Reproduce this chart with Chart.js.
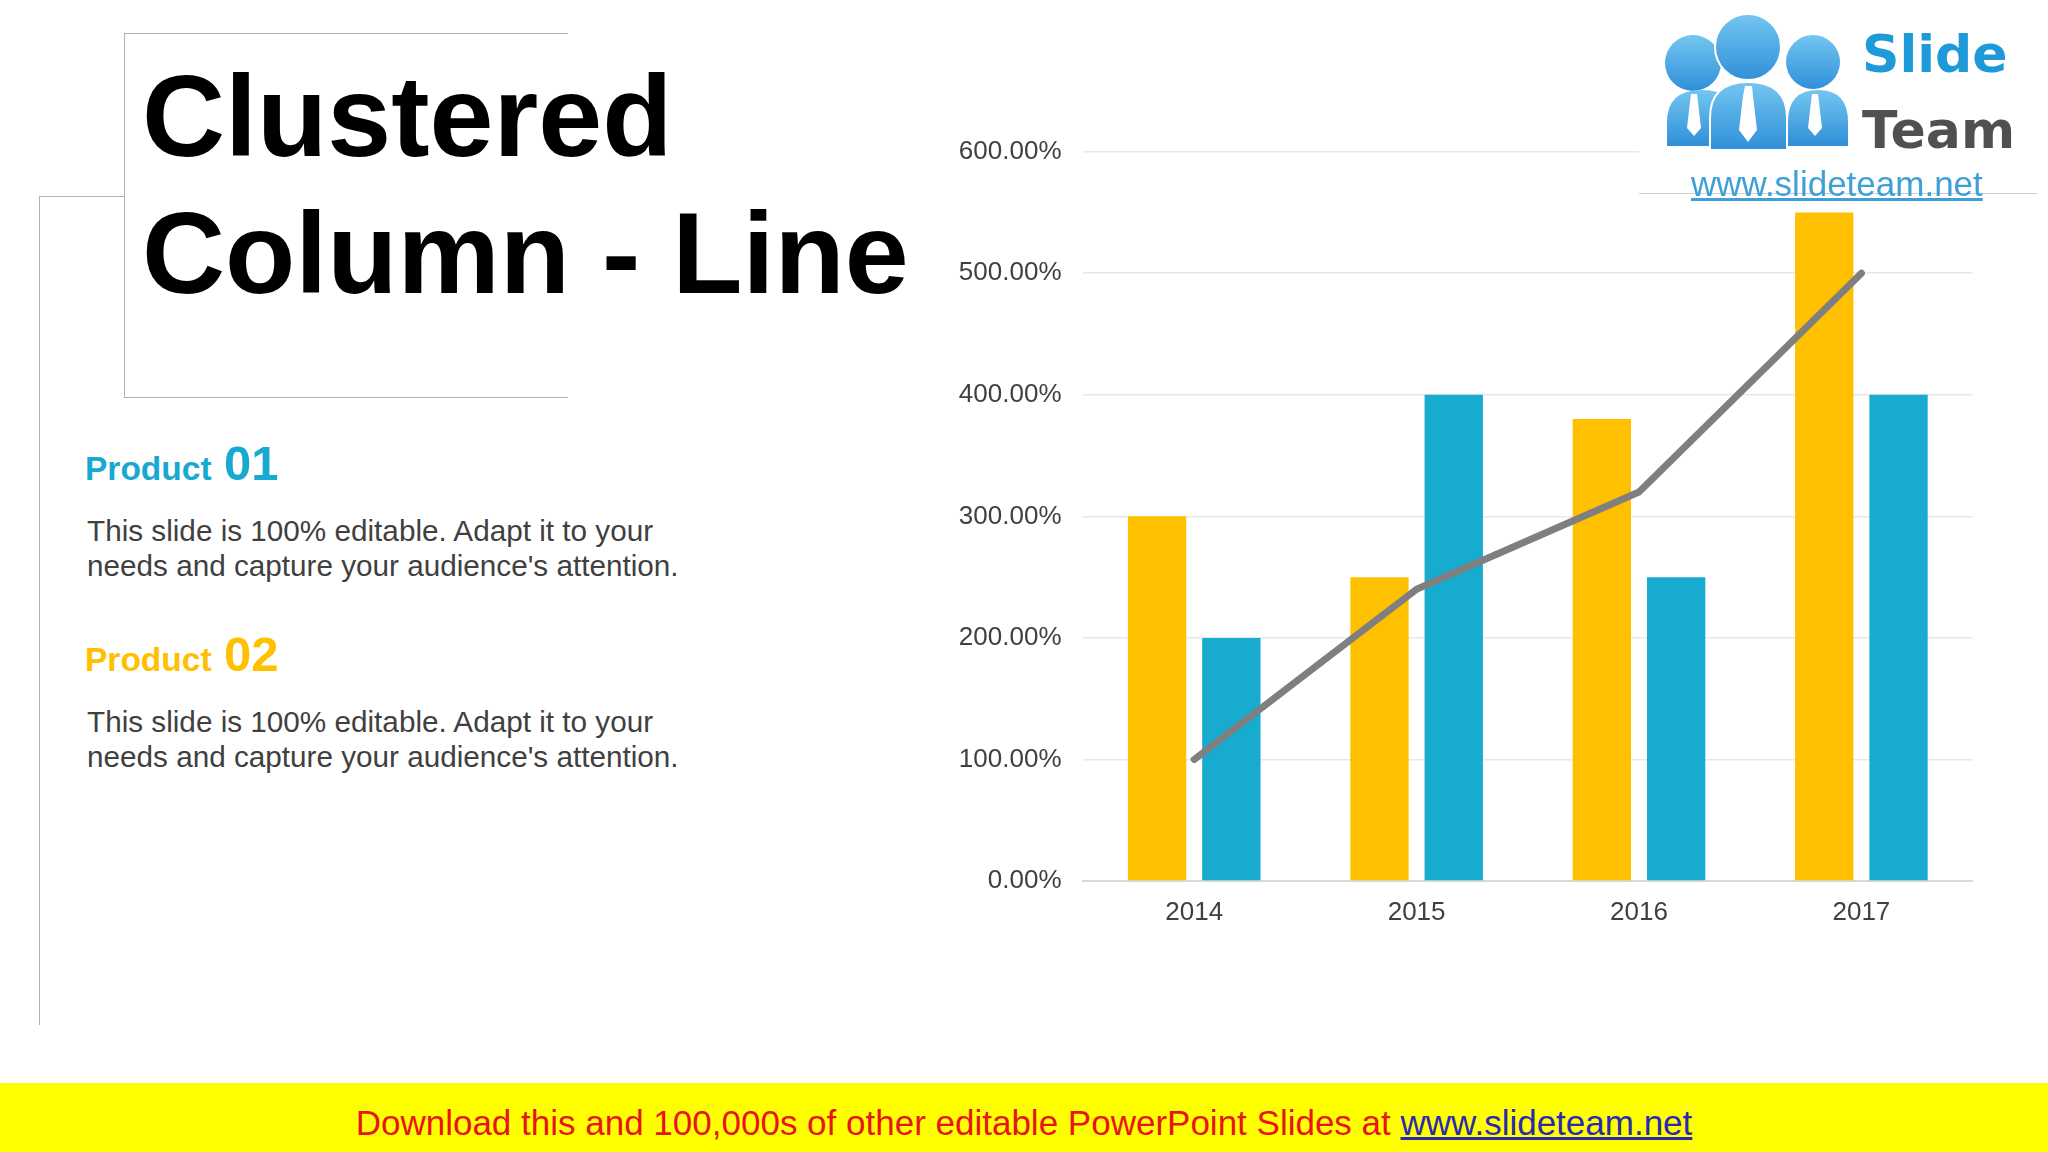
<!DOCTYPE html>
<html>
<head>
<meta charset="utf-8">
<title>Clustered Column - Line</title>
<script src="https://cdn.jsdelivr.net/npm/chart.js@4.4.1/dist/chart.umd.min.js"></script>
<style>
    html, body { margin: 0; padding: 0; }
    body {
        width: 2048px;
        height: 1152px;
        position: relative;
        overflow: hidden;
        background: #ffffff;
        font-family: "Liberation Sans", Arial, sans-serif;
    }
    .abs { position: absolute; white-space: nowrap; line-height: 1; }
    .title { font-size: 115px; font-weight: bold; color: #000; }
    .prod { font-size: 33.5px; font-weight: bold; }
    .num { font-size: 49px; font-weight: bold; }
    .desc { font-size: 29.7px; line-height: 35.3px; color: #404040; }
    .blue { color: #17a9cf; }
    .yellow { color: #ffc000; }
    #chartBox { position: absolute; left: 940px; top: 100px; width: 1060px; height: 880px; }
    #logo { position: absolute; left: 1639px; top: 0; width: 400px; height: 194px; background: #fff; z-index: 5; }
    #banner { position: absolute; left: 0; top: 1083px; width: 2048px; height: 69px; background: #ffff00; }
</style>
</head>
<body>

<!-- title frame lines -->
<div class="abs" style="left:124px; top:33px; width:444px; height:365px; border:1.5px solid #b0b0b0; border-right:none; box-sizing:border-box;"></div>
<div class="abs" style="left:39px; top:196px; width:85px; height:829px; border-top:1.5px solid #b0b0b0; border-left:1.5px solid #b0b0b0; box-sizing:border-box;"></div>

<div class="abs title" style="left:142px; top:59px;">Clustered</div>
<div class="abs title" style="left:142px; top:196px;">Column - Line</div>

<div class="abs prod blue" style="left:85px; top:452px;">Product</div>
<div class="abs num blue" style="left:224px; top:439px;">01</div>
<div class="abs desc" style="left:87px; top:513px;">This slide is 100% editable. Adapt it to your<br>needs and capture your audience's attention.</div>

<div class="abs prod yellow" style="left:85px; top:643px;">Product</div>
<div class="abs num yellow" style="left:224px; top:630px;">02</div>
<div class="abs desc" style="left:87px; top:704px;">This slide is 100% editable. Adapt it to your<br>needs and capture your audience's attention.</div>

<div id="chartBox"><canvas id="comboChart" width="1060" height="880"></canvas></div>

<div id="logo">
    <svg width="220" height="160" style="position:absolute; left:11px; top:0;">
        <defs>
            <linearGradient id="pg" x1="0" y1="0" x2="0" y2="1">
                <stop offset="0" stop-color="#74c6f1"/>
                <stop offset="1" stop-color="#2f8fd8"/>
            </linearGradient>
        </defs>
        <!-- left person -->
        <circle cx="43" cy="63" r="28" fill="url(#pg)"/>
        <path d="M17,146 L17,122 Q17,90 52,90 Q87,90 87,122 L87,146 Z" fill="url(#pg)"/>
        <path d="M41,94 L47,94 L48,102 L51,128 L44,136 L37,128 L40,102 Z" fill="#fff"/>
        <!-- right person -->
        <circle cx="163" cy="62" r="27" fill="url(#pg)"/>
        <path d="M138,146 L138,122 Q138,90 168,90 Q198,90 198,122 L198,146 Z" fill="url(#pg)"/>
        <path d="M162,94 L168,94 L169,102 L172,128 L165,136 L158,128 L161,102 Z" fill="#fff"/>
        <!-- middle person -->
        <circle cx="98" cy="47" r="33" fill="url(#pg)" stroke="#fff" stroke-width="2"/>
        <path d="M60,150 L60,118 Q60,82 98,82 Q137,82 137,118 L137,150 Z" fill="url(#pg)" stroke="#fff" stroke-width="2"/>
        <path d="M95,86 L102,86 L103,96 L107,130 L98,142 L89,130 L93,96 Z" fill="#fff"/>
    </svg>
    <div class="abs" style="left:223px; top:28px; font-family:'DejaVu Sans'; font-size:52px; font-weight:bold; color:#1e9ad8;">Slide</div>
    <div class="abs" style="left:223px; top:104px; font-family:'DejaVu Sans'; font-size:52px; font-weight:bold; color:#505050;">Team</div>
    <div class="abs" style="left:0; top:193px; width:398px; height:1px; background:#d0d0d0;"></div>
    <div class="abs" style="left:52px; top:166px; font-size:35px; color:#3fa0d8; text-decoration:underline;">www.slideteam.net</div>
</div>

<div id="banner"></div>
<div class="abs" style="left:0; top:1105px; width:2048px; text-align:center; font-size:35px; color:#e8141a;">Download this and 100,000s of other editable PowerPoint Slides at <span style="color:#2a2ab0; text-decoration:underline;">www.slideteam.net</span></div>

<script>
    // Data of the chart
    const years = ["2014", "2015", "2016", "2017"];
    const product02Values = [300, 250, 380, 550];
    const product01Values = [200, 400, 250, 400];
    const trendValues = [100, 240, 320, 500];
    const yTickValues = [0, 100, 200, 300, 400, 500, 600];

    const ctx = document.getElementById("comboChart").getContext("2d");

    new Chart(ctx, {
        type: "bar",
        data: {
            labels: years,
            datasets: [
                {
                    type: "line",
                    label: "Trend",
                    data: trendValues,
                    borderColor: "#7f7f7f",
                    borderWidth: 7,
                    borderCapStyle: "round",
                    borderJoinStyle: "round",
                    pointRadius: 0,
                    tension: 0,
                    fill: false,
                    order: 0
                },
                {
                    label: "Product 02",
                    data: product02Values,
                    backgroundColor: "#ffc000",
                    categoryPercentage: 0.668,
                    barPercentage: 0.785,
                    order: 1
                },
                {
                    label: "Product 01",
                    data: product01Values,
                    backgroundColor: "#17abd0",
                    categoryPercentage: 0.668,
                    barPercentage: 0.785,
                    order: 1
                }
            ]
        },
        options: {
            responsive: false,
            animation: false,
            devicePixelRatio: 1,
            layout: {
                padding: { top: 51.7, right: 27.4, left: 0, bottom: 0 }
            },
            plugins: {
                legend: { display: false },
                tooltip: { enabled: false }
            },
            scales: {
                x: {
                    grid: { display: false, drawTicks: false },
                    border: { color: "#d9d9d9", width: 2 },
                    ticks: {
                        color: "#404040",
                        padding: 16.5,
                        font: { family: "Liberation Sans", size: 26 }
                    },
                    afterFit: function (scale) {
                        scale.height = 99;
                    }
                },
                y: {
                    min: 0,
                    max: 600,
                    afterBuildTicks: function (scale) {
                        scale.ticks = yTickValues.map(v => ({ value: v }));
                    },
                    grid: { color: "#e8e8e8", lineWidth: 1.5, drawTicks: false },
                    border: { display: false },
                    ticks: {
                        color: "#404040",
                        padding: 21.5,
                        font: { family: "Liberation Sans", size: 26 },
                        callback: function (value) {
                            return value.toFixed(2) + "%";
                        }
                    },
                    afterFit: function (scale) {
                        scale.width = 143;
                    }
                }
            }
        }
    });
</script>
</body>
</html>
